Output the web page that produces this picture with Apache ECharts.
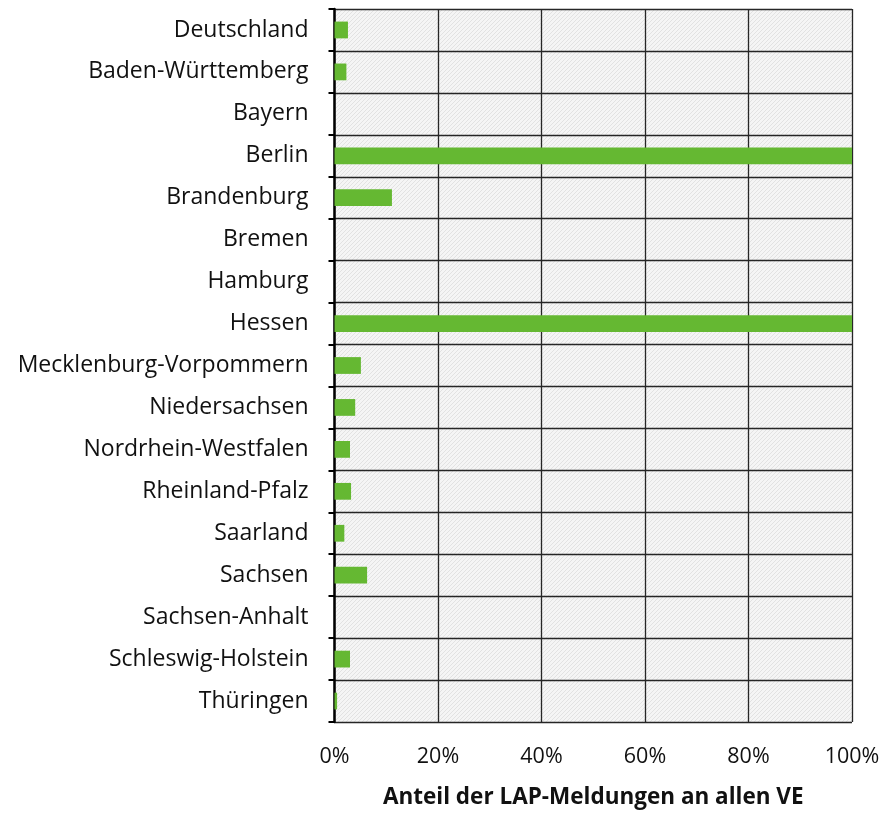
<!DOCTYPE html>
<html>
<head>
<meta charset="utf-8">
<script src="https://cdn.jsdelivr.net/npm/echarts@6/dist/echarts.min.js"></script>
<style>html,body{margin:0;padding:0;background:#fff;}#chart{width:885px;height:814px;}</style>
</head>
<body>
<div id="chart"></div>
<script>
const categories = ["Deutschland","Baden-Württemberg","Bayern","Berlin","Brandenburg","Bremen","Hamburg","Hessen","Mecklenburg-Vorpommern","Niedersachsen","Nordrhein-Westfalen","Rheinland-Pfalz","Saarland","Sachsen","Sachsen-Anhalt","Schleswig-Holstein","Thüringen"];
const values = [2.6, 2.3, 0, 100, 11.1, 0, 0, 100, 5.1, 4.0, 3.0, 3.2, 1.9, 6.3, 0, 3.0, 0.5];
const xTicks = [0, 20, 40, 60, 80, 100];

const pc = document.createElement('canvas');
pc.width = 4; pc.height = 4;
const g = pc.getContext('2d');
g.fillStyle = '#f5f5f5'; g.fillRect(0,0,4,4);
g.fillStyle = '#e2e2e2';
for (let i=0;i<4;i++){ g.fillRect(i,3-i,1,1); }

const chart = echarts.init(document.getElementById('chart'), null, {renderer:'canvas'});
const font = 'Open Sans';
chart.setOption({
  animation:false,
  grid:{left:334.5, right:33, top:9, bottom:89, show:true, backgroundColor:{image:pc, repeat:'repeat'}, borderWidth:0},
  xAxis:{
    type:'value', min:xTicks[0], max:xTicks[xTicks.length-1], interval:20,
    axisLine:{show:false}, axisTick:{show:false},
    splitLine:{show:true, lineStyle:{color:'#262626', width:1.3}},
    axisLabel:{formatter:'{value}%', fontSize:21.5, color:'#111', fontFamily:font, margin:24},
    name:'Anteil der LAP-Meldungen an allen VE', nameLocation:'middle', nameGap:64,
    nameTextStyle:{fontSize:22.5, fontWeight:'bold', color:'#111', fontFamily:font}
  },
  yAxis:{
    type:'category', data:categories, inverse:true,
    axisLine:{show:true, lineStyle:{color:'#000', width:2.5}},
    axisTick:{show:true, length:6, lineStyle:{color:'#000', width:2}},
    splitLine:{show:true, lineStyle:{color:'#262626', width:1.3}},
    axisLabel:{fontSize:23, color:'#111', fontFamily:font, margin:26, padding:[4,0,0,0]}
  },
  series:[{type:'bar', data:values, barWidth:'40%', itemStyle:{color:'#65b832'}}]
});
</script>
</body>
</html>
